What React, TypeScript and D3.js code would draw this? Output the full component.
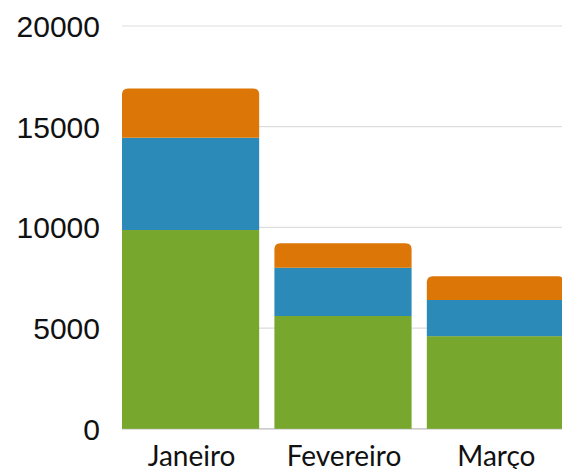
import { useEffect, useRef } from 'react';
import { scaleBand, scaleLinear, select, stack } from 'd3';

const months = ['Janeiro', 'Fevereiro', 'Março'];
const seriesKeys = ['a', 'b', 'c'];
const greenValues = [9870, 5600, 4600];
const blueValues = [4580, 2400, 1800];
const orangeValues = [2450, 1210, 1170];
const yTicks = [0, 5000, 10000, 15000, 20000];
const colors = ['#78a72d', '#2c8ab9', '#dc7707'];

function App(): JSX.Element {
  const svgRef = useRef<SVGSVGElement | null>(null);
  const width = 562;
  const height = 469;

  useEffect(() => {
    if (svgRef.current) svgRef.current.innerHTML = '';
    const svg = select(svgRef.current);

    const rows = months.map((m, i) => ({
      month: m,
      a: greenValues[i],
      b: blueValues[i],
      c: orangeValues[i]
    }));

    const x = scaleBand<string>()
      .domain(months)
      .range([122, 564])
      .paddingInner(0.1)
      .paddingOuter(0);
    const y = scaleLinear().domain([0, 20000]).range([428.8, 26]);

    // grid
    yTicks.forEach((t) => {
      svg
        .append('line')
        .attr('x1', 122)
        .attr('x2', width)
        .attr('y1', y(t))
        .attr('y2', y(t))
        .attr('stroke', t === 0 ? '#bbbbbb' : '#dddddd')
        .attr('stroke-width', 1.2);
      svg
        .append('text')
        .attr('x', 100)
        .attr('y', y(t))
        .attr('dy', '0.36em')
        .attr('text-anchor', 'end')
        .attr('font-family', 'Liberation Sans, Arial, sans-serif')
        .attr('font-size', 30)
        .attr('fill', '#111')
        .text(t);
    });

    const layers = stack<any>().keys(seriesKeys)(rows);
    const r = 6;
    layers.forEach((layer, li) => {
      layer.forEach((d, i) => {
        const x0 = x(months[i]) as number;
        const w = x.bandwidth();
        const y0 = y(d[0]);
        const y1 = y(d[1]);
        if (li === layers.length - 1) {
          const p = `M${x0},${y0}V${y1 + r}Q${x0},${y1} ${x0 + r},${y1}H${x0 + w - r}Q${x0 + w},${y1} ${x0 + w},${y1 + r}V${y0}Z`;
          svg.append('path').attr('d', p).attr('fill', colors[li]);
        } else {
          svg
            .append('rect')
            .attr('x', x0)
            .attr('y', y1)
            .attr('width', w)
            .attr('height', y0 - y1)
            .attr('fill', colors[li]);
        }
      });
    });

    months.forEach((m) => {
      svg
        .append('text')
        .attr('x', (x(m) as number) + x.bandwidth() / 2 + 1)
        .attr('y', 466)
        .attr('text-anchor', 'middle')
        .attr('font-family', 'Lato, Nunito, sans-serif')
        .attr('font-size', 28)
        .attr('fill', '#111')
        .text(m);
    });
  }, []);

  return (
    <svg
      ref={svgRef}
      width={width}
      height={height}
      style={{ position: 'absolute', left: 0, top: 0, background: '#fff' }}
    />
  );
}

export default App;
